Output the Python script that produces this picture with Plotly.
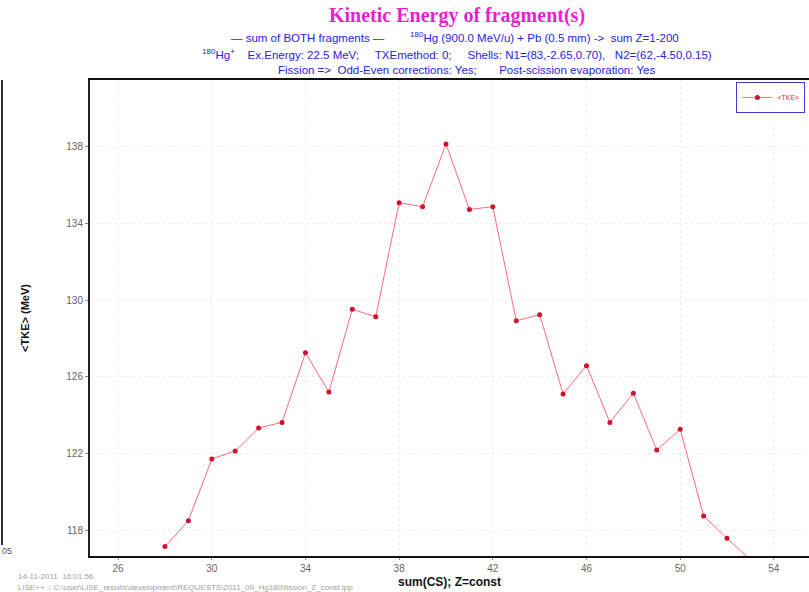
import plotly.graph_objects as go

# sum of charge states for fragment pairs, and mean total kinetic energy (MeV)
z_sum = [28, 29, 30, 31, 32, 33, 34, 35, 36, 37, 38, 39, 40, 41, 42, 43,
         44, 45, 46, 47, 48, 49, 50, 51, 52, 53]
tke = [117.14, 118.49, 121.71, 122.13, 123.33, 123.62, 127.25, 125.20,
       129.52, 129.13, 135.08, 134.87, 138.14, 134.73, 134.87, 128.92,
       129.24, 125.10, 126.58, 123.62, 125.14, 122.18, 123.26, 118.74,
       117.57, 116.45]

x_ticks = [26, 30, 34, 38, 42, 46, 50, 54]
y_ticks = [118, 122, 126, 130, 134, 138]

W, H = 809, 592
ML, MR, MT, MB = 90, 0, 80, 36
PW, PH = W - ML - MR, H - MT - MB


def px(x):
    return (x - ML) / PW


def py(y):
    return (H - MB - y) / PH


fig = go.Figure()
fig.add_trace(go.Scatter(
    x=z_sum, y=tke, mode="lines+markers", name="&lt;TKE&gt;",
    line=dict(color="#ff6a7a", width=1),
    marker=dict(color="#d01030", size=5, symbol="circle"),
))

SANS = "Liberation Sans, Arial, sans-serif"
BLUE = "#2424dc"

ann = [
    dict(text="<b>Kinetic Energy of fragment(s)</b>", x=px(457), y=py(15),
         font=dict(family="Liberation Serif, Times New Roman, serif",
                   size=20, color="#e81fd0")),
    dict(text="— sum of BOTH fragments —        <sup>180</sup>Hg (900.0 MeV/u) + Pb (0.5 mm) -&gt;  sum Z=1-200",
         x=px(455), y=py(37), font=dict(family=SANS, size=11.5, color=BLUE)),
    dict(text="<sup>180</sup>Hg<sup>+</sup>    Ex.Energy: 22.5 MeV;     TXEmethod: 0;     Shells: N1=(83,-2.65,0.70),   N2=(62,-4.50,0.15)",
         x=px(457), y=py(54), font=dict(family=SANS, size=11.5, color=BLUE)),
    dict(text="Fission =&gt;  Odd-Even corrections: Yes;       Post-scission evaporation: Yes",
         x=px(466), y=py(70), font=dict(family=SANS, size=11.5, color=BLUE)),
]
for a in ann:
    fig.add_annotation(xref="paper", yref="paper", showarrow=False,
                       xanchor="center", yanchor="middle", **a)

# run stamp in the lower-left corner
fig.add_annotation(xref="paper", yref="paper", showarrow=False,
                   x=px(16), y=py(576), xanchor="left", yanchor="middle",
                   text="14-11-2011  16:01:56",
                   font=dict(family=SANS, size=8, color="#a0a0a0"))
fig.add_annotation(xref="paper", yref="paper", showarrow=False,
                   x=px(16), y=py(587), xanchor="left", yanchor="middle",
                   text="LISE++ :: C:\\user\\LISE_results\\development\\REQUESTS\\2011_09_Hg180\\fission_Z_const.lpp",
                   font=dict(family=SANS, size=8, color="#a0a0a0"))

# edge of the neighbouring panel
fig.add_shape(type="line", xref="paper", yref="paper",
              x0=px(2), x1=px(2), y0=py(80), y1=py(545),
              line=dict(color="#333333", width=2))
fig.add_annotation(xref="paper", yref="paper", showarrow=False,
                   x=px(0), y=py(551), xanchor="left", yanchor="middle",
                   text="05", font=dict(family=SANS, size=9, color="#555555"))

fig.update_layout(
    width=W, height=H,
    margin=dict(l=ML, r=MR, t=MT, b=MB),
    paper_bgcolor="white", plot_bgcolor="white",
    showlegend=True,
    legend=dict(x=0.995, y=0.996, xanchor="right", yanchor="top",
                bgcolor="white", bordercolor="#3a3ad0", borderwidth=1,
                font=dict(family=SANS, size=7, color="#e8203a"),
                itemwidth=30, tracegroupgap=0),
    font=dict(family=SANS),
)

fig.update_xaxes(
    range=[24.8, 55.5], tickvals=x_ticks,
    showline=True, linecolor="#111111", linewidth=2, mirror=True,
    ticks="outside", ticklen=2, tickcolor="#888888",
    tickfont=dict(family=SANS, size=10, color="#666666"),
    showgrid=True, gridcolor="#ececec", griddash="dot", gridwidth=1,
    zeroline=False,
    title=dict(text="<b>sum(CS); Z=const</b>", standoff=5,
               font=dict(family=SANS, size=12, color="#111111")),
)
fig.update_yaxes(
    range=[116.65, 141.48], tickvals=y_ticks,
    showline=True, linecolor="#222222", linewidth=2,
    ticks="outside", ticklen=3, tickcolor="#888888",
    tickfont=dict(family=SANS, size=10, color="#666666"),
    showgrid=True, gridcolor="#ececec", griddash="dot", gridwidth=1,
    zeroline=False,
    title=dict(text="<b>&lt;TKE&gt; (MeV)</b>", standoff=34,
               font=dict(family=SANS, size=11, color="#111111")),
)

fig.write_html("out.html")
